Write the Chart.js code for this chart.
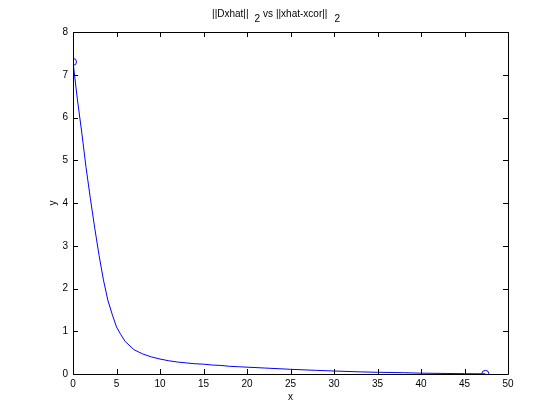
<!DOCTYPE html>
<html>
<head>
<meta charset="utf-8">
<script src="https://cdn.jsdelivr.net/npm/chart.js@4/dist/chart.umd.min.js"></script>
<style>
html,body{margin:0;padding:0;background:#fff;}
#wrap{width:560px;height:420px;}
</style>
</head>
<body>
<div id="wrap"><canvas id="c" width="560" height="420"></canvas></div>
<script>
const xValues = [0, 0.5, 1, 1.5, 2, 2.5, 3, 3.5, 4, 4.5, 5, 5.5, 6, 7, 8, 9, 10, 11, 12, 13, 14, 15, 16, 17, 18, 19, 20, 22, 25, 28, 30, 33, 35, 38, 40, 43, 45, 47.4];
const yValues = [7.3, 6.43, 5.66, 4.83, 4.1, 3.41, 2.77, 2.2, 1.73, 1.4, 1.1, 0.92, 0.76, 0.57, 0.47, 0.40, 0.35, 0.31, 0.28, 0.26, 0.24, 0.23, 0.21, 0.20, 0.18, 0.17, 0.16, 0.14, 0.11, 0.085, 0.07, 0.05, 0.04, 0.03, 0.02, 0.012, 0.008, 0.003];
const xTicks = [0, 5, 10, 15, 20, 25, 30, 35, 40, 45, 50];
const yTicks = [0, 1, 2, 3, 4, 5, 6, 7, 8];
const titleParts = ["||Dxhat||", "2", "vs ||xhat-xcor||", "2"];
const xLabel = "x";
const yLabel = "y";

const FONT = "Liberation Sans, Arial, Helvetica, sans-serif";
const points = xValues.map((x, i) => ({x: x, y: yValues[i]}));
const radii = xValues.map((x, i) => (i === 0 || i === xValues.length - 1) ? 3.5 : 0);

const framePlugin = {
  id: 'frame',
  afterDraw(chart) {
    const ctx = chart.ctx;
    const a = chart.chartArea;
    const xs = chart.scales.x, ys = chart.scales.y;
    ctx.save();
    ctx.strokeStyle = '#000';
    ctx.lineWidth = 1;
    ctx.beginPath();
    ctx.rect(Math.round(a.left) + 0.5, Math.round(a.top) + 0.5, Math.round(a.right - a.left), Math.round(a.bottom - a.top));
    ctx.stroke();
    const L = 5;
    ctx.beginPath();
    xTicks.forEach(v => {
      const px = Math.round(xs.getPixelForValue(v)) + 0.5;
      ctx.moveTo(px, a.bottom); ctx.lineTo(px, a.bottom - L);
      ctx.moveTo(px, a.top); ctx.lineTo(px, a.top + L);
    });
    yTicks.forEach(v => {
      const py = Math.round(ys.getPixelForValue(v)) + 0.5;
      ctx.moveTo(a.left, py); ctx.lineTo(a.left + L, py);
      ctx.moveTo(a.right, py); ctx.lineTo(a.right - L, py);
    });
    ctx.stroke();
    // title
    ctx.fillStyle = '#000';
    ctx.textBaseline = 'alphabetic';
    ctx.textAlign = 'left';
    const big = '10px ' + FONT;
    const sub = '10px ' + FONT;
    ctx.font = big;
    const w0 = ctx.measureText(titleParts[0]).width;
    const w2 = ctx.measureText(titleParts[2]).width;
    const w1 = ctx.measureText(titleParts[1]).width;
    const gap1 = 6, gap2 = 3, gap3 = 7;
    const total = w0 + gap1 + w1 + gap2 + w2 + gap3 + w1;
    let x = 276 - total / 2;
    const base = 17;
    ctx.fillText(titleParts[0], x, base); x += w0 + gap1;
    ctx.font = sub; ctx.fillText(titleParts[1], x, base + 5); x += w1 + gap2;
    ctx.font = big; ctx.fillText(titleParts[2], x, base); x += w2 + gap3;
    ctx.font = sub; ctx.fillText(titleParts[3], x, base + 5);
    // axis labels
    ctx.font = '10px ' + FONT;
    ctx.textAlign = 'center';
    ctx.fillText(xLabel, (a.left + a.right) / 2, 400);
    ctx.save();
    ctx.translate(56, (a.top + a.bottom) / 2);
    ctx.rotate(-Math.PI / 2);
    ctx.fillText(yLabel, 0, 0);
    ctx.restore();
    ctx.restore();
  }
};

new Chart(document.getElementById('c'), {
  type: 'scatter',
  data: {
    datasets: [{
      data: points,
      showLine: true,
      borderColor: '#0000ff',
      borderWidth: 1,
      pointRadius: radii,
      pointBorderColor: '#0000ff',
      pointBackgroundColor: 'rgba(0,0,0,0)',
      pointBorderWidth: 1,
      tension: 0
    }]
  },
  options: {
    responsive: false,
    animation: false,
    devicePixelRatio: 1,
    layout: {padding: {left: 0, top: 32, right: 52, bottom: 0}},
    plugins: {legend: {display: false}, title: {display: false}, tooltip: {enabled: false}},
    scales: {
      x: {
        type: 'linear', min: 0, max: 50,
        border: {display: false},
        grid: {display: false, drawTicks: false},
        afterBuildTicks(s) { s.ticks = xTicks.map(v => ({value: v})); },
        afterFit(s) { s.height = 46; },
        ticks: {color: '#000', font: {family: FONT, size: 10}, padding: 4, maxRotation: 0, autoSkip: false}
      },
      y: {
        type: 'linear', min: 0, max: 8,
        border: {display: false},
        grid: {display: false, drawTicks: false},
        afterBuildTicks(s) { s.ticks = yTicks.map(v => ({value: v})); },
        afterFit(s) { s.width = 73; },
        ticks: {color: '#000', font: {family: FONT, size: 10}, padding: 5, autoSkip: false}
      }
    }
  },
  plugins: [framePlugin]
});
</script>
</body>
</html>
